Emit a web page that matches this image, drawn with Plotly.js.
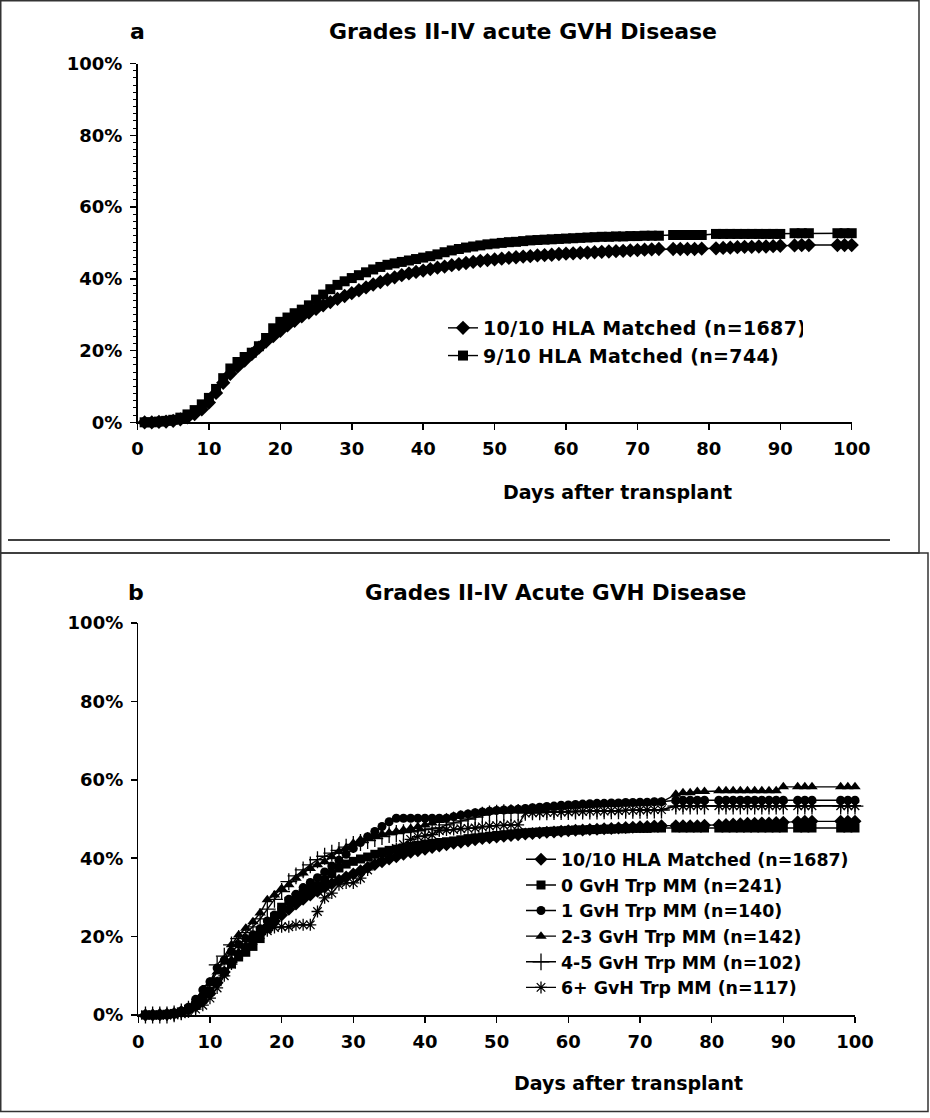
<!DOCTYPE html>
<html><head><meta charset="utf-8">
<script src="https://cdn.plot.ly/plotly-3.0.1.min.js"></script>
<style>
html,body{margin:0;padding:0;background:#fff}
#chart{width:930px;height:1118px}
</style>
</head><body><div id="chart"></div>
<script>
// ---- data (days after transplant, cumulative incidence in %) ----
const days = [1,2,3,4,5,6,7,8,9,10,
  11,12,13,14,15,16,17,18,19,20,
  21,22,23,24,25,26,27,28,29,30,
  31,32,33,34,35,36,37,38,39,40,
  41,42,43,44,45,46,47,48,49,50,
  51,52,53,54,55,56,57,58,59,60,
  61,62,63,64,65,66,67,68,69,70,
  71,72,73,
  75,76,77,78,79,
  81,82,83,84,85,86,87,88,89,90,
  92,93,94,
  98,99,100];

const matched1010 = [0,0,0.1,0.2,0.4,0.8,1.4,2.3,3.6,5.5,
  8.2,11,13.5,15.5,17.2,19,20.8,22.5,24,25.5,
  27,28.3,29.5,30.6,31.6,32.6,33.5,34.4,35.2,36,
  36.8,37.6,38.4,39.1,39.8,40.4,41,41.5,41.9,42.3,
  42.7,43.1,43.4,43.8,44.1,44.4,44.7,45,45.2,45.4,
  45.6,45.8,46,46.2,46.3,46.5,46.6,46.7,46.9,47,
  47.1,47.2,47.3,47.4,47.5,47.6,47.7,47.8,47.9,48,
  48.1,48.2,48.3,
  48.3,48.3,48.3,48.3,48.4,
  48.5,48.6,48.7,48.8,48.9,48.9,49,49,49.1,49.2,
  49.3,49.4,49.4,
  49.4,49.4,49.4];

const matched910 = [0,0,0.2,0.4,0.7,1.3,2.2,3.4,5,6.8,
  9.3,12.3,15,16.8,18.2,19.4,21.2,23.5,26.2,28,
  29.2,30.4,31.4,32.6,34.2,35.6,37.1,38.3,39.3,40.2,
  41,41.8,42.6,43.3,43.9,44.3,44.7,45.1,45.5,45.9,
  46.3,46.8,47.4,47.9,48.3,48.7,49,49.3,49.6,49.8,
  50,50.2,50.3,50.5,50.7,50.8,50.9,51,51.1,51.2,
  51.3,51.4,51.5,51.6,51.7,51.7,51.8,51.8,51.9,51.9,
  52,52,52,
  52.2,52.2,52.2,52.2,52.2,
  52.5,52.5,52.5,52.5,52.5,52.5,52.5,52.5,52.5,52.5,
  52.7,52.7,52.7,
  52.7,52.7,52.7];

const gvh0 = [0,0,0,0.2,0.4,0.8,1.5,2.5,4,6,
  8.5,11,13,14.8,16,17.5,19.5,22,25,27.5,
  29,30,31,32,33,34.5,36,37.5,38.5,39.2,
  39.8,40.3,41,41.6,42,42.3,42.6,43,43.3,43.6,
  43.8,44,44.2,44.4,44.7,45,45.2,45.4,45.6,45.8,
  46,46.2,46.4,46.5,46.6,46.7,46.8,46.9,47,47.1,
  47.2,47.2,47.3,47.3,47.4,47.4,47.5,47.5,47.6,47.6,
  47.6,47.7,47.7,
  47.7,47.7,47.7,47.7,47.7,
  47.7,47.7,47.7,47.7,47.7,47.7,47.7,47.7,47.7,47.7,
  47.7,47.7,47.7,
  47.7,47.7,47.7];

const gvh1 = [0,0,0,0,0.3,1,2,4,6.4,8.5,
  12,14,16.2,18,19.5,20.5,22,24,25.5,27.2,
  29.5,30.8,32.5,33.8,35,36.5,38,39.5,41,42.5,
  44,45.5,46.8,48.1,49.3,50.2,50.2,50.2,50.2,50.2,
  50.2,50.2,50.2,50.6,51,51.3,51.6,51.8,52,52.2,
  52.3,52.4,52.5,52.7,52.9,53,53.2,53.3,53.5,53.6,
  53.7,53.8,53.9,54,54,54.1,54.1,54.2,54.2,54.3,
  54.3,54.4,54.4,
  54.8,54.8,54.8,54.8,54.8,
  54.8,54.8,54.8,54.8,54.8,54.8,54.8,54.8,54.8,54.8,
  54.8,54.8,54.8,
  54.8,54.8,54.8];

const gvh23 = [0,0,0,0.2,0.5,1,2,3.5,5.5,8,
  11,14,17.9,20.4,22.1,23.8,26,29.4,30.6,32.3,
  33.2,34.9,36.2,37.4,38.3,39.1,40.4,41.7,42.6,43.8,
  44.7,45.3,45.8,46.2,46.5,46.8,47.2,47.6,48,48.5,
  49,49.6,50.3,50.7,51,51.3,51.5,51.7,51.9,52.1,
  52.2,52.3,52.4,52.5,52.6,52.7,52.8,52.9,53,53.2,
  53.3,53.4,53.5,53.6,53.7,53.7,53.8,53.9,53.9,54,
  54.1,54.2,54.3,
  56.3,56.7,56.7,57,57,
  57.2,57.2,57.2,57.2,57.2,57.2,57.2,57.2,57.2,58.2,
  58.2,58.2,58.2,
  58.2,58.2,58.2];

const gvh45 = [0,0,0,0,0.3,0.8,1.5,2.5,4.5,7.5,
  12.8,15,17.9,19.5,21,22.5,24.5,27,29.5,31.5,
  34,35.5,37,38.3,39.6,40.5,41.3,42,42.8,43.5,
  44,44.5,45,45.5,46,46.3,46.5,46.7,47,47.3,
  47.5,47.7,48.5,49,49.5,50,50.5,51,51.3,51.5,
  51.6,51.6,51.7,51.7,51.8,51.8,51.8,51.9,51.9,51.9,
  52,52,52,52,52.1,52.1,52.1,52.2,52.2,52.2,
  52.2,52.3,52.3,
  53.3,53.3,53.3,53.3,53.3,
  53.3,53.3,53.3,53.3,53.3,53.3,53.3,53.3,53.3,53.3,
  53.3,53.3,53.3,
  53.3,53.3,53.3];

const gvh6 = [0,0,0,0,0,0.3,0.8,1.5,2.5,4.3,
  6.9,10,13,15.5,17.5,19,20.5,21.5,22.3,22.5,
  22.5,23,23,23,26.4,29.9,31.1,33.2,33.7,33.7,
  34.9,37,39,40.5,41.5,42.5,43.5,44.8,45.5,45.7,
  46,47,47.2,47.3,47.5,47.6,47.7,48,48.2,48.3,
  48.4,48.5,48.5,51.5,51.6,51.6,51.7,51.7,51.8,51.8,
  51.9,51.9,52,52,52,52.1,52.1,52.2,52.2,52.3,
  52.3,52.4,52.4,
  53.3,53.3,53.4,53.4,53.4,
  53.4,53.4,53.4,53.4,53.4,53.4,53.4,53.4,53.4,53.4,
  53.4,53.4,53.4,
  53.4,53.4,53.4];

const namesA = ['10/10 HLA Matched (n=1687)', '9/10 HLA Matched (n=744)'];
const namesB = ['10/10 HLA Matched (n=1687)', '0 GvH Trp MM (n=241)', '1 GvH Trp MM (n=140)',
  '2-3 GvH Trp MM (n=142)', '4-5 GvH Trp MM (n=102)', '6+ GvH Trp MM (n=117)'];
const xTicks = [0,10,20,30,40,50,60,70,80,90,100];
const yTicks = [0,20,40,60,80,100];
const yTickLabels = ['0%','20%','40%','60%','80%','100%'];
const yMinorTicks = [2,4,6,8,10,12,14,16,18,22,24,26,28,30,32,34,36,38,42,44,46,48,50,52,54,56,58,
  62,64,66,68,70,72,74,76,78,82,84,86,88,90,92,94,96,98];
const titleA = 'Grades II-IV acute GVH Disease';
const titleB = 'Grades II-IV Acute GVH Disease';
const xTitle = 'Days after transplant';

// ---- layout helpers (pixel -> paper) ----
const W = 930, H = 1118;
const px = v => v / W;
const py = v => 1 - v / H;
const FONT = 'DejaVu Sans';
const bold = (size) => ({family: FONT, size: size, color: '#000', weight: 'bold'});

function tr(y, name, sym, size, xa, ya, leg, open) {
  const m = {symbol: sym, size: size, color: '#000'};
  if (open) m.line = {color: '#000', width: 1.3};
  return {x: days, y: y, name: name, type: 'scatter', mode: 'lines+markers',
    xaxis: xa, yaxis: ya, legend: leg, cliponaxis: false,
    line: {color: '#000', width: 1.4}, marker: m};
}

const data = [
  tr(matched1010, namesA[0], 'diamond', 11, 'x', 'y', 'legend'),
  tr(matched910, namesA[1], 'square', 10, 'x', 'y', 'legend'),
  tr(matched1010, namesB[0], 'diamond', 10, 'x2', 'y2', 'legend2'),
  tr(gvh0, namesB[1], 'square', 9, 'x2', 'y2', 'legend2'),
  tr(gvh1, namesB[2], 'circle', 9, 'x2', 'y2', 'legend2'),
  tr(gvh23, namesB[3], 'triangle-up', 10, 'x2', 'y2', 'legend2'),
  tr(gvh45, namesB[4], 'cross-thin-open', 12, 'x2', 'y2', 'legend2', true),
  tr(gvh6, namesB[5], 'asterisk-open', 10, 'x2', 'y2', 'legend2', true)
];

const axBase = {
  ticks: 'outside', ticklen: 6, tickwidth: 1.5, tickcolor: '#000',
  showline: true, linecolor: '#000', linewidth: 1.5,
  showgrid: false, zeroline: false, fixedrange: true,
  tickfont: bold(18), ticklabelstandoff: 4
};

const layout = {
  width: W, height: H, margin: {l: 0, r: 0, t: 0, b: 0},
  paper_bgcolor: '#fff', plot_bgcolor: 'rgba(0,0,0,0)',
  showlegend: true,
  xaxis: Object.assign({}, axBase, {domain: [px(137.5), px(851.7)], range: [0, 100], tickvals: xTicks, anchor: 'y'}),
  yaxis: Object.assign({}, axBase, {domain: [py(422.3), py(63.5)], range: [0, 100],
    tickvals: yTicks, ticktext: yTickLabels, anchor: 'x',
    minor: {tickvals: yMinorTicks, ticks: 'outside', ticklen: 3, tickcolor: '#000', tickwidth: 1}}),
  xaxis2: Object.assign({}, axBase, {domain: [px(138.3), px(855)], range: [0, 100], tickvals: xTicks, anchor: 'y2'}),
  yaxis2: Object.assign({}, axBase, {domain: [py(1015), py(623)], range: [0, 100],
    tickvals: yTicks, ticktext: yTickLabels, anchor: 'x2'}),
  legend: {x: px(443), y: py(309), xanchor: 'left', yanchor: 'top', font: bold(19),
    bgcolor: 'rgba(0,0,0,0)', borderwidth: 0},
  legend2: {x: px(521), y: py(841.5), xanchor: 'left', yanchor: 'top', font: bold(17.4),
    bgcolor: 'rgba(0,0,0,0)', borderwidth: 0},
  annotations: [
    {text: 'a', x: px(137), y: py(32), xref: 'paper', yref: 'paper', showarrow: false, font: bold(22), xanchor: 'center', yanchor: 'middle'},
    {text: titleA, x: px(523), y: py(32), xref: 'paper', yref: 'paper', showarrow: false, font: bold(22), xanchor: 'center', yanchor: 'middle'},
    {text: xTitle, x: px(617), y: py(492), xref: 'paper', yref: 'paper', showarrow: false, font: bold(19), xanchor: 'center', yanchor: 'middle'},
    {text: 'b', x: px(136), y: py(592), xref: 'paper', yref: 'paper', showarrow: false, font: bold(22), xanchor: 'center', yanchor: 'middle'},
    {text: titleB, x: px(555), y: py(592), xref: 'paper', yref: 'paper', showarrow: false, font: bold(21.5), xanchor: 'center', yanchor: 'middle'},
    {text: xTitle, x: px(628), y: py(1083), xref: 'paper', yref: 'paper', showarrow: false, font: bold(19), xanchor: 'center', yanchor: 'middle'}
  ],
  shapes: [
    {type: 'rect', xref: 'paper', yref: 'paper', x0: px(0.75), x1: px(919), y0: py(0.75), y1: py(553), line: {color: '#333', width: 1.5}},
    {type: 'rect', xref: 'paper', yref: 'paper', x0: px(0.75), x1: px(928), y0: py(553), y1: py(1111.5), line: {color: '#333', width: 1.5}},
    {type: 'line', xref: 'paper', yref: 'paper', x0: px(8), x1: px(890), y0: py(540), y1: py(540), line: {color: '#000', width: 1.5}}
  ]
};

Plotly.newPlot('chart', data, layout, {displayModeBar: false, staticPlot: true}).then(function () {
  // widen legend lettering slightly (the original is set in a wider face)
  document.querySelectorAll('#chart text.legendtext').forEach(function (el) {
    const fs = parseFloat(el.style.fontSize);
    el.style.letterSpacing = fs >= 18.5 ? '0.35px' : '0.65px';
  });
});
</script></body></html>
